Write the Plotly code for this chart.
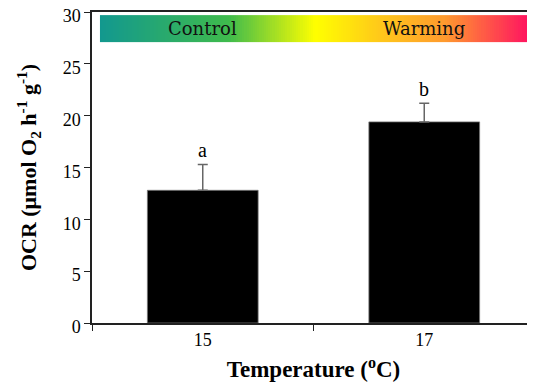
import plotly.graph_objects as go

categories = ["15", "17"]
ocr = [12.8, 19.4]
err = [2.5, 1.8]
letters = ["a", "b"]
band_labels = ["Control", "Warming"]
grad_stops = [0.0, 0.3, 0.5, 0.65, 0.8, 1.0]
grad_colors = ["#12988f", "#3fbb4c", "#ffff00", "#ffc81a", "#ff9a2e", "#ff0f62"]

serif = "Liberation Serif"
xpos = list(range(len(categories)))

fig = go.Figure()
fig.add_trace(go.Bar(
    x=xpos, y=ocr, width=0.5,
    marker=dict(color="black", line=dict(color="#777", width=0.8)),
    error_y=dict(type="data", array=err, arrayminus=[0, 0], symmetric=False,
                 color="#666", thickness=1.5, width=5),
    showlegend=False,
))

# gradient banner (bricks: x and y given as cell edges)
n = 200
xl, xr = -0.464, 1.482
xedges = [xl + (xr - xl) * i / n for i in range(n + 1)]
zrow = [(i + 0.5) / n for i in range(n)]
fig.add_trace(go.Heatmap(
    x=xedges, y=[27.1, 29.7], z=[zrow],
    colorscale=[[s, c] for s, c in zip(grad_stops, grad_colors)],
    zmin=0, zmax=1, showscale=False, hoverinfo="skip",
))

annotations = []
for xp, v, e, t in zip(xpos, ocr, err, letters):
    annotations.append(dict(x=xp, y=v + e, xref="x", yref="y", text=t,
                            showarrow=False, yshift=14,
                            font=dict(family=serif, size=20, color="black")))
for xp, t in zip(xpos, band_labels):
    annotations.append(dict(x=xp, y=28.4, xref="x", yref="y", text=t,
                            showarrow=False,
                            font=dict(family="DejaVu Serif", size=18, color="#111")))

# page body has an 8px margin, so the figure is sized to the visible area
fig.update_layout(
    width=527, height=379,
    margin=dict(l=84, r=0, t=4, b=64),
    plot_bgcolor="white", paper_bgcolor="white",
    font=dict(family=serif, color="black"),
    annotations=annotations,
    xaxis=dict(
        range=[-0.5, 1.5], tickvals=xpos, ticktext=categories, ticks="",
        minor=dict(tick0=0.5, dtick=1, ticks="outside", ticklen=6,
                   tickwidth=1.2, tickcolor="#222", showgrid=False),
        showline=True, linecolor="#222", linewidth=1.5, mirror=True,
        showgrid=False, zeroline=False, tickfont=dict(size=18, family=serif),
        title=dict(text="<b>Temperature (<sup>o</sup>C)</b>",
                   font=dict(size=23, family=serif), standoff=12),
    ),
    yaxis=dict(
        range=[0, 30], dtick=5, ticks="outside", ticklen=6, tickwidth=1.2,
        tickcolor="#222", showline=True, linecolor="#222", linewidth=1.5,
        showgrid=False, zeroline=False, tickfont=dict(size=18, family=serif),
        ticklabeloverflow="allow", automargin="left+right", ticklabelshift=4,
        title=dict(text="<b>OCR (μmol O<sub>2</sub> h<sup>-1</sup> g<sup>-1</sup>)</b>",
                   font=dict(size=22, family=serif), standoff=20),
    ),
)

fig.write_html("out.html")
